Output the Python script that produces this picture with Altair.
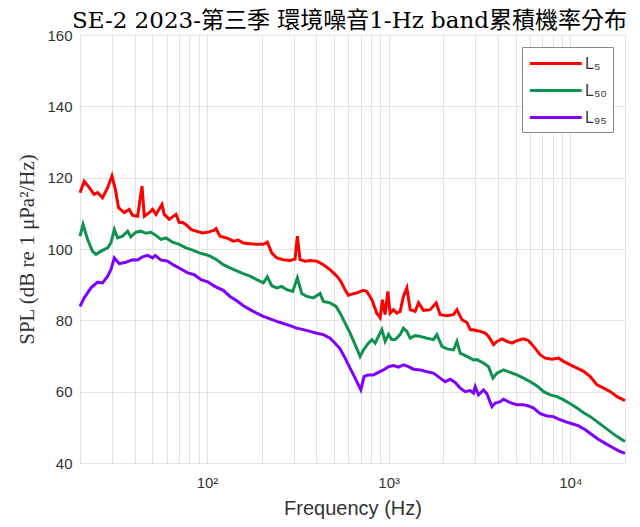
import altair as alt
import pandas as pd

TITLE = "SE-2 2023-第三季 環境噪音1-Hz band累積機率分布"
SERIES = ["L₅", "L₅₀", "L₉₅"]
COLORS = ["#ff0000", "#0f9150", "#8000ff"]

red_hz = [20, 21.1, 22.5, 23.9, 25.0, 26.6, 28.4, 30.0, 31.3, 32.6, 35.0, 37.3, 39.0, 41.5, 43.9, 45.2, 48.1, 50.2,
          52.4, 56.5, 58.2, 62.0, 67.5, 70.4, 73.5, 76.6, 81.7, 87.0, 94.7, 103, 109.7, 112.1, 117.9, 128.4, 139.6,
          148.8, 158.5, 172.6, 187.8, 204.3, 214.9, 227.2, 242.1, 263.3, 286.6, 305.3, 314.4, 325.3, 346.7, 369.4,
          402.2, 437.3, 476.2, 518.4, 540.5, 563.6, 575.8, 600.5, 613.6, 668.2, 726.4, 758.4, 808.1, 861.0, 897.8,
          924.3, 956.5, 989.9, 1019, 1063, 1110, 1157, 1206, 1260, 1314, 1400, 1460, 1555, 1693, 1827, 1922, 2093,
          2275, 2376, 2531, 2697, 2812, 2996, 3193, 3402, 3547, 3779, 3946, 4205, 4480, 4774, 5085, 5529, 5892, 6280,
          6835, 7283, 7930, 8620, 9185, 10000, 10886, 11839, 12888, 14030, 15260, 16610, 18090, 20000]
red_db = [115.8, 119.0, 117.2, 115.3, 115.8, 114.4, 117.2, 120.5, 116.7, 111.6, 110.2, 111.1, 109.4, 109.2, 117.6,
          109.2, 110.2, 111.1, 109.7, 112.5, 109.7, 108.3, 109.7, 107.4, 107.4, 106.9, 105.5, 105.0, 104.5, 104.8,
          105.3, 105.7, 103.6, 103.1, 102.2, 102.5, 101.7, 101.5, 101.3, 101.3, 101.9, 98.9, 97.5, 97.0, 96.8, 97.2,
          103.6, 97.0, 96.6, 96.8, 96.6, 95.6, 94.2, 92.4, 91.2, 89.5, 88.6, 87.0, 87.2, 87.7, 88.4, 88.1, 85.8, 82.0,
          80.7, 85.8, 81.6, 88.1, 82.0, 83.0, 82.0, 82.5, 86.7, 89.1, 83.0, 82.5, 84.9, 82.8, 83.0, 84.9, 81.6, 81.3,
          81.6, 83.0, 80.2, 79.4, 77.4, 77.2, 76.9, 76.4, 75.5, 73.2, 74.1, 74.8, 74.1, 73.6, 74.3, 74.8, 74.3, 72.7,
          70.3, 69.4, 69.1, 69.4, 68.5, 67.5, 66.6, 65.7, 64.2, 61.9, 61.0, 60.0, 58.6, 57.5]

green_hz = [20, 20.8, 22.0, 23.4, 24.5, 26.1, 28.4, 29.6, 30.9, 32.2, 34.3, 36.6, 38.1, 40.6, 43.3, 46.1, 49.2, 52.4,
            55.8, 59.4, 64.7, 70.4, 76.6, 83.4, 90.7, 98.7, 103.9, 113.1, 123.0, 133.9, 145.8, 158.5, 172.6, 187.8,
            204.3, 214.9, 227.2, 242.1, 257.9, 274.9, 296.6, 314.4, 332.4, 354.2, 385.2, 419.4, 437.3, 476.2, 513.8,
            540.5, 575.8, 613.6, 653.9, 696.6, 726.4, 774.0, 808.1, 842.6, 878.6, 917.3, 956.5, 997.5, 1041, 1086,
            1157, 1206, 1260, 1314, 1400, 1492, 1624, 1766, 1843, 1964, 2093, 2275, 2376, 2477, 2697, 2932, 3061,
            3329, 3547, 3750, 3946, 4291, 4672, 5085, 5529, 6021, 6554, 7128, 7760, 8447, 9185, 10000, 10886, 11839,
            12888, 14030, 15260, 16610, 18090, 20000]
green_db = [103.6, 106.9, 102.7, 99.4, 98.5, 99.4, 100.3, 101.7, 105.5, 103.1, 103.6, 105.0, 103.4, 104.7, 105.0,
            104.4, 104.7, 103.8, 102.7, 103.1, 101.9, 101.3, 100.3, 99.7, 98.9, 98.4, 98.0, 97.0, 95.6, 94.7, 93.9,
            93.1, 92.4, 91.4, 90.5, 92.2, 89.7, 89.1, 89.5, 88.6, 88.1, 91.9, 87.5, 86.7, 86.3, 87.5, 85.3, 84.9, 83.9,
            82.0, 79.2, 76.4, 73.2, 69.9, 71.7, 73.6, 74.6, 73.6, 75.5, 77.4, 74.1, 76.0, 74.6, 74.6, 76.0, 77.8, 76.9,
            75.0, 75.7, 75.5, 75.0, 74.6, 76.0, 72.7, 72.0, 71.7, 74.1, 70.8, 69.9, 68.9, 69.0, 68.0, 67.0, 63.8, 65.2,
            66.1, 65.4, 64.7, 63.8, 62.8, 61.6, 60.0, 59.1, 58.6, 57.7, 56.6, 55.4, 54.1, 53.0, 51.6, 50.2, 48.8, 47.4,
            46.0]

purple_hz = [20, 21.1, 23.0, 25.0, 26.6, 28.4, 29.6, 30.9, 32.9, 35.8, 39.0, 41.5, 44.2, 47.1, 50.2, 51.9, 55.8,
             60.7, 66.1, 71.9, 78.3, 85.1, 92.7, 100.9, 109.7, 123.0, 133.9, 145.8, 158.5, 172.6, 187.8, 204.3, 222.3,
             242.1, 263.3, 286.6, 312.0, 339.3, 369.4, 402.2, 437.3, 476.2, 507.3, 540.5, 575.8, 613.6, 653.9, 702.8,
             732.8, 774.0, 825.0, 878.6, 936.0, 997.5, 1063, 1132, 1206, 1286, 1369, 1492, 1624, 1766, 1922, 2048,
             2182, 2325, 2477, 2639, 2812, 2932, 2996, 3124, 3329, 3475, 3703, 3862, 4115, 4291, 4672, 5085, 5529,
             5892, 6280, 6835, 7441, 8091, 8620, 9387, 10219, 11110, 12096, 13170, 14320, 15590, 16970, 18460, 20000]
purple_db = [83.9, 86.3, 89.1, 90.7, 90.5, 92.4, 94.2, 97.5, 95.9, 96.3, 97.0, 96.9, 97.8, 98.2, 97.5, 98.2, 96.9,
             96.6, 95.4, 94.4, 93.3, 92.8, 91.4, 90.8, 89.6, 88.4, 86.7, 85.5, 84.1, 83.0, 82.0, 81.1, 80.4, 79.7,
             79.1, 78.5, 77.8, 77.4, 76.9, 76.4, 76.0, 75.0, 73.6, 72.0, 69.4, 66.6, 63.8, 60.5, 64.3, 64.7, 64.7,
             65.4, 66.1, 67.0, 67.3, 66.9, 67.5, 67.0, 66.3, 66.1, 65.6, 65.2, 63.8, 62.8, 63.5, 62.6, 61.0, 60.0,
             60.3, 59.6, 61.4, 59.1, 60.5, 59.4, 55.8, 56.8, 57.2, 57.9, 56.9, 56.3, 56.3, 56.0, 55.4, 53.8, 53.2,
             53.0, 52.3, 51.6, 51.0, 50.4, 49.3, 47.9, 46.6, 45.5, 44.4, 43.4, 42.7]

x_ticks = [20, 30, 40, 50, 60, 70, 80, 90, 100, 200, 300, 400, 500, 600, 700, 800, 900,
           1000, 2000, 3000, 4000, 5000, 6000, 7000, 8000, 9000, 10000, 20000]
y_ticks = [40, 60, 80, 100, 120, 140, 160]

frames = []
for name, hz, db in zip(SERIES, [red_hz, green_hz, purple_hz], [red_db, green_db, purple_db]):
    assert len(hz) == len(db), name
    frames.append(pd.DataFrame({"freq": hz, "spl": db, "series": name}))
df = pd.concat(frames, ignore_index=True)

TITLE_FONT = "DejaVu Serif, Noto Sans CJK TC, serif"
SERIF = "Liberation Serif, serif"
SANS = "Liberation Sans, Arial, sans-serif"

chart = alt.Chart(df).mark_line(strokeWidth=3).encode(
    x=alt.X("freq:Q",
            scale=alt.Scale(type="log", domain=[20, 20000], nice=False),
            axis=alt.Axis(values=x_ticks,
                          labelExpr="datum.value == 100 ? '10²' : datum.value == 1000 ? '10³' : datum.value == 10000 ? '10⁴' : ''",
                          title="Frequency (Hz)", titleFont=SANS, titleFontSize=20, titleFontWeight="normal",
                          titleColor="#333", titlePadding=8,
                          labelFont=SANS, labelFontSize=15, labelColor="#333", labelPadding=12,
                          grid=True, gridColor="#e3e3e3", ticks=False, domain=False, labelFlush=False)),
    y=alt.Y("spl:Q",
            scale=alt.Scale(domain=[40, 160], nice=False, zero=False),
            axis=alt.Axis(values=y_ticks, title="SPL (dB re 1 μPa²/Hz)", titleFont=SERIF, titleFontSize=21,
                          titleFontWeight="normal", titleColor="#333", titlePadding=9,
                          labelFont=SANS, labelFontSize=15, labelColor="#333", labelPadding=8,
                          grid=True, gridColor="#e3e3e3", ticks=False, domain=False)),
    color=alt.Color("series:N",
                    scale=alt.Scale(domain=SERIES, range=COLORS),
                    legend=alt.Legend(title=None, orient="none", legendX=442, legendY=12,
                                      symbolType="M-1,0H5", symbolSize=300, symbolStrokeWidth=3,
                                      labelFont=SANS, labelFontSize=16, labelColor="#333", labelOffset=36,
                                      padding=6, rowPadding=8, strokeColor="#888", fillColor="white")),
    order=alt.Order("freq:Q"),
).properties(
    width=545, height=428,
    title=alt.Title(TITLE, font=TITLE_FONT, fontSize=23, fontWeight="normal", color="black", anchor="middle",
                    offset=2, dx=-3, dy=7),
    autosize=alt.AutoSizeParams(type="none"),
    padding={"left": 72, "top": 27, "right": 7, "bottom": 56},
).configure_view(stroke="#8a8a8a", strokeWidth=1.2).configure(background="white")

chart.save("out.html", embed_options={"renderer": "svg", "actions": False})
